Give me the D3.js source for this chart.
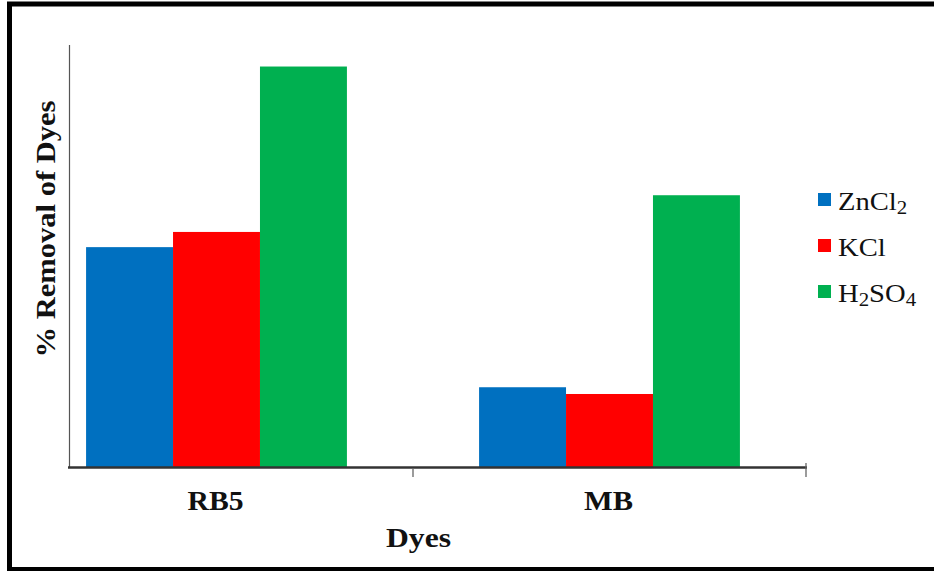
<!DOCTYPE html>
<html><head><meta charset="utf-8">
<script src="https://cdn.jsdelivr.net/npm/d3@7"></script>
<style>html,body{margin:0;padding:0;background:#fff;}svg{display:block;}</style>
</head><body>
<svg id="c" width="934" height="571"></svg>
<script>
const categories = ["RB5", "MB"];
const series = ["ZnCl2", "KCl", "H2SO4"];
const valuesZnCl2 = [52.1, 18.9];
const valuesKCl = [55.7, 17.3];
const valuesH2SO4 = [94.9, 64.4];
const colors = ["#0070C0", "#FF0000", "#00B050"];

const seriesValues = [valuesZnCl2, valuesKCl, valuesH2SO4];
const svg = d3.select("#c");
const serif = "'Times New Roman','Liberation Serif',Tinos,serif";

// frame
svg.append("rect").attr("x", 9.5).attr("y", 4).attr("width", 1000).attr("height", 565.5)
  .attr("fill", "none").attr("stroke", "#000").attr("stroke-width", 5);

const x0 = d3.scaleBand().domain(categories).range([20, 806]);
const x1 = d3.scaleBand().domain(series).range([0, x0.bandwidth()]).paddingInner(0).paddingOuter(0.76);
const y = d3.scaleLinear().domain([0, 100]).range([467, 45]);

// bars
const g = svg.append("g");
categories.forEach((c, ci) => {
  series.forEach((s, si) => {
    const v = seriesValues[si][ci];
    g.append("rect")
      .attr("x", x0(c) + x1(s))
      .attr("y", y(v))
      .attr("width", x1.bandwidth())
      .attr("height", y(0) - y(v))
      .attr("fill", colors[si]);
  });
});

// y axis line
svg.append("line").attr("x1", 69.5).attr("x2", 69.5).attr("y1", y(100)).attr("y2", y(0))
  .attr("stroke", "#555").attr("stroke-width", 1.2);

// x axis
const xAxis = svg.append("g");
xAxis.append("line").attr("x1", 68).attr("x2", 807).attr("y1", 467.5).attr("y2", 467.5)
  .attr("stroke", "#333").attr("stroke-width", 2.4);
const tickXs = [x0("MB"), x0("MB") + x0.bandwidth()];
tickXs.forEach((tx, i) => {
  xAxis.append("line").attr("x1", tx).attr("x2", tx).attr("y1", i === 1 ? 463 : 468).attr("y2", 477)
    .attr("stroke", "#666").attr("stroke-width", 1.3);
});

// category labels
const catW = {"RB5": 56, "MB": 49};
categories.forEach(c => {
  svg.append("text").attr("x", x0(c) + x0.bandwidth() / 2 - 1).attr("y", 510)
    .attr("text-anchor", "middle").attr("font-family", serif).attr("font-weight", "bold")
    .attr("font-size", 28).attr("textLength", catW[c]).attr("lengthAdjust", "spacingAndGlyphs")
    .attr("fill", "#111").text(c);
});

// axis titles
svg.append("text").attr("x", 418.5).attr("y", 547).attr("text-anchor", "middle")
  .attr("font-family", serif).attr("font-weight", "bold").attr("font-size", 28)
  .attr("textLength", 65).attr("lengthAdjust", "spacingAndGlyphs").attr("fill", "#111").text("Dyes");
svg.append("text").attr("transform", "translate(55,229) rotate(-90)").attr("text-anchor", "middle")
  .attr("font-family", serif).attr("font-weight", "bold").attr("font-size", 28)
  .attr("textLength", 257).attr("lengthAdjust", "spacingAndGlyphs").attr("fill", "#111").text("% Removal of Dyes");

// legend
const legendParts = [
  [["ZnCl", false], ["2", true]],
  [["KCl", false]],
  [["H", false], ["2", true], ["SO", false], ["4", true]]
];
series.forEach((s, i) => {
  const by = 210 + i * 46;
  svg.append("rect").attr("x", 818).attr("y", by - 17).attr("width", 13).attr("height", 13)
    .attr("fill", colors[i]);
  const t = svg.append("text").attr("transform", `translate(838,${by}) scale(1.1,1)`)
    .attr("font-family", serif).attr("font-size", 26).attr("fill", "#111");
  legendParts[i].forEach(([txt, sub]) => {
    t.append("tspan").attr("font-size", sub ? 19 : 26)
      .attr("baseline-shift", sub ? "-22%" : "0").text(txt);
  });
});
</script>
</body></html>
